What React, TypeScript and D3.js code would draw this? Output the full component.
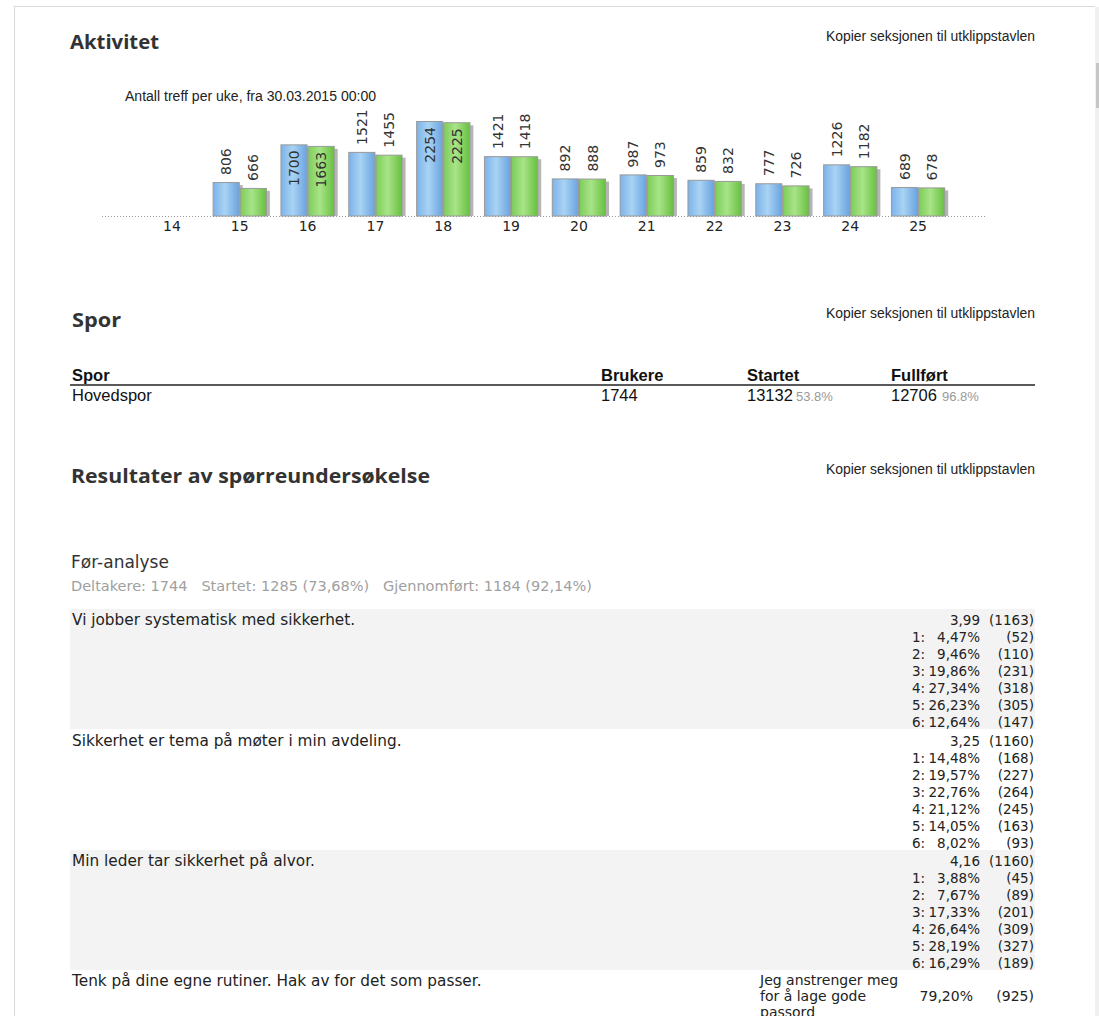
import * as d3 from "d3";

// weekly hits, two series (blue / green)
const weeks = ["14", "15", "16", "17", "18", "19", "20", "21", "22", "23", "24", "25"];
const hitsA: (number | null)[] = [null, 806, 1700, 1521, 2254, 1421, 892, 987, 859, 777, 1226, 689];
const hitsB: (number | null)[] = [null, 666, 1663, 1455, 2225, 1418, 888, 973, 832, 726, 1182, 678];

// track table
const trackCols = ["Spor", "Brukere", "Startet", "Fullført"];
const trackNames = ["Hovedspor"];
const trackUsers = [1744];
const trackStarted = [13132];
const trackStartedPct = ["53.8%"];
const trackDone = [12706];
const trackDonePct = ["96.8%"];

// survey
const surveyStats = "Deltakere: 1744   Startet: 1285 (73,68%)   Gjennomført: 1184 (92,14%)";
const questions = [
  "Vi jobber systematisk med sikkerhet.",
  "Sikkerhet er tema på møter i min avdeling.",
  "Min leder tar sikkerhet på alvor.",
];
const means = ["3,99", "3,25", "4,16"];
const answered = [1163, 1160, 1160];
const pct = [
  ["4,47%", "9,46%", "19,86%", "27,34%", "26,23%", "12,64%"],
  ["14,48%", "19,57%", "22,76%", "21,12%", "14,05%", "8,02%"],
  ["3,88%", "7,67%", "17,33%", "26,64%", "28,19%", "16,29%"],
];
const counts = [
  [52, 110, 231, 318, 305, 147],
  [168, 227, 264, 245, 163, 93],
  [45, 89, 201, 309, 327, 189],
];
const checkQuestion = "Tenk på dine egne rutiner. Hak av for det som passer.";
const checkOption = ["Jeg anstrenger meg", "for å lage gode", "passord"];
const checkPct = "79,20%";
const checkCount = 925;

const ARIAL = "'Liberation Sans', Arial, sans-serif";
const VERD = "'DejaVu Sans', Verdana, sans-serif";
const HEAD = "'Open Sans', 'DejaVu Sans', sans-serif";

function Heading({ x, y, w, text }: { x: number; y: number; w: number; text: string }) {
  return (
    <text x={x} y={y} fontFamily={HEAD} fontWeight="bold" fontSize={20} fill="#333"
      textLength={w} lengthAdjust="spacingAndGlyphs">{text}</text>
  );
}

function Copy({ y }: { y: number }) {
  return (
    <text x={826} y={y} fontFamily={ARIAL} fontSize={14} fill="#222"
      textLength={209} lengthAdjust="spacingAndGlyphs">Kopier seksjonen til utklippstavlen</text>
  );
}

export default function App() {
  const base = 216;
  const x = d3.scaleBand<string>().domain(weeks).range([138, 952]).paddingInner(0.2).paddingOuter(0.1);
  const sub = d3.scaleBand<string>().domain(["a", "b"]).range([0, x.bandwidth()]);
  const all = [...hitsA, ...hitsB].filter((v) => v !== null) as number[];
  const y = d3.scaleLinear().domain([0, d3.max(all) as number]).range([base, 121]);

  const series = [
    { key: "a", values: hitsA, fill: "url(#gBlue)" },
    { key: "b", values: hitsB, fill: "url(#gGreen)" },
  ];

  const blockTops = [609, 730, 850];
  const lineH = 17;

  return (
    <svg width={1099} height={1016} style={{ position: "absolute", left: 0, top: 0, background: "#fff" }}>
      <defs>
        <linearGradient id="gBlue" x1="0" x2="1" y1="0" y2="0">
          <stop offset="0" stopColor="#7db2ea" />
          <stop offset="0.45" stopColor="#a8d3f3" />
          <stop offset="1" stopColor="#6aa3e0" />
        </linearGradient>
        <linearGradient id="gGreen" x1="0" x2="1" y1="0" y2="0">
          <stop offset="0" stopColor="#7ccd58" />
          <stop offset="0.45" stopColor="#a8e488" />
          <stop offset="1" stopColor="#67c03f" />
        </linearGradient>
      </defs>

      {/* page frame and scrollbar */}
      <line x1={14} x2={1095} y1={6.5} y2={6.5} stroke="#d9d9d9" />
      <line x1={14.5} x2={14.5} y1={6} y2={1016} stroke="#d9d9d9" />
      <rect x={1095} y={7} width={4} height={1009} fill="#f0f0f0" />
      <rect x={1096} y={63} width={3} height={45} fill="#c6c6c6" />

      {/* Aktivitet */}
      <Heading x={70} y={49} w={89} text="Aktivitet" />
      <Copy y={41} />
      <text x={125} y={101} fontFamily={ARIAL} fontSize={14} fill="#222"
        textLength={251} lengthAdjust="spacingAndGlyphs">Antall treff per uke, fra 30.03.2015 00:00</text>

      <line x1={102} x2={985} y1={base + 0.5} y2={base + 0.5} stroke="#999" strokeDasharray="1,2" />

      {weeks.map((w, i) => (
        <g key={w} transform={`translate(${x(w)},0)`}>
          {series.map((s) => {
            const v = s.values[i];
            if (v === null) return null;
            const bx = sub(s.key) as number;
            const bw = sub.bandwidth();
            const top = y(v);
            const h = base - top;
            const labelLen = String(v).length * 0.636 * 14;
            const inside = top - 7 - labelLen < 105;
            const cx = bx + bw / 2;
            const ly = inside ? top + 6 : top - 7;
            return (
              <g key={s.key}>
                <rect x={bx + 3} y={top + 3} width={bw} height={Math.max(0, h - 3)} fill="#a8a8a8" opacity={0.85} />
                <rect x={bx + 0.5} y={top + 0.5} width={bw - 1} height={h - 0.5} fill={s.fill} stroke="#9a9a9a" strokeWidth={1} />
                <text transform={`translate(${cx},${ly}) rotate(-90)`} dy="0.36em" textAnchor={inside ? "end" : "start"}
                  fontFamily={VERD} fontSize={14} fill="#333">{v}</text>
              </g>
            );
          })}
          <text x={x.bandwidth() / 2} y={231} textAnchor="middle" fontFamily={VERD} fontSize={14} fill="#222">{w}</text>
        </g>
      ))}

      {/* Spor */}
      <Heading x={72} y={327} w={49} text="Spor" />
      <Copy y={318} />
      {trackCols.map((c, i) => (
        <text key={c} x={[72, 601, 747, 891][i]} y={381} fontFamily={ARIAL} fontWeight="bold" fontSize={16.5} fill="#111">{c}</text>
      ))}
      <line x1={70} x2={1035} y1={385} y2={385} stroke="#222" strokeWidth={1.6} />
      {trackNames.map((n, i) => (
        <g key={n} fontFamily={ARIAL} fill="#111">
          <text x={72} y={401} fontSize={16.5}>{n}</text>
          <text x={601} y={401} fontSize={16.5}>{trackUsers[i]}</text>
          <text x={747} y={401} fontSize={16.5}>{trackStarted[i]}</text>
          <text x={796} y={401} fontSize={13} fill="#999">{trackStartedPct[i]}</text>
          <text x={891} y={401} fontSize={16.5}>{trackDone[i]}</text>
          <text x={942} y={401} fontSize={13} fill="#999">{trackDonePct[i]}</text>
        </g>
      ))}

      {/* Resultater */}
      <Heading x={71} y={483} w={359} text="Resultater av spørreundersøkelse" />
      <Copy y={474} />
      <text x={71} y={568} fontFamily={VERD} fontSize={17} fill="#333">Før-analyse</text>
      <text x={71} y={591} fontFamily={VERD} fontSize={14.5} fill="#a0a0a0" xmlSpace="preserve" style={{ whiteSpace: "pre" }}
        textLength={521} lengthAdjust="spacingAndGlyphs">{surveyStats}</text>

      {questions.map((q, qi) => {
        const top = blockTops[qi];
        const b0 = top + 16;
        return (
          <g key={q} fontFamily={VERD} fill="#222">
            {qi !== 1 && <rect x={70} y={top} width={965} height={120} fill="#f3f3f3" />}
            <text x={72} y={b0} fontSize={15.3}>{q}</text>
            <text x={980} y={b0} fontSize={13.5} textAnchor="end">{means[qi]}</text>
            <text x={1034} y={b0} fontSize={13.5} textAnchor="end">({answered[qi]})</text>
            {pct[qi].map((p, k) => (
              <g key={k}>
                <text x={912} y={b0 + (k + 1) * lineH} fontSize={13.5}>{k + 1}:</text>
                <text x={980} y={b0 + (k + 1) * lineH} fontSize={13.5} textAnchor="end">{p}</text>
                <text x={1034} y={b0 + (k + 1) * lineH} fontSize={13.5} textAnchor="end">({counts[qi][k]})</text>
              </g>
            ))}
          </g>
        );
      })}

      <g fontFamily={VERD} fill="#222">
        <text x={72} y={986} fontSize={15.3}>{checkQuestion}</text>
        {checkOption.map((t, i) => (
          <text key={t} x={760} y={985 + i * 16} fontSize={14}>{t}</text>
        ))}
        <text x={973} y={1001} fontSize={14} textAnchor="end">{checkPct}</text>
        <text x={1034} y={1001} fontSize={14} textAnchor="end">({checkCount})</text>
      </g>
    </svg>
  );
}
